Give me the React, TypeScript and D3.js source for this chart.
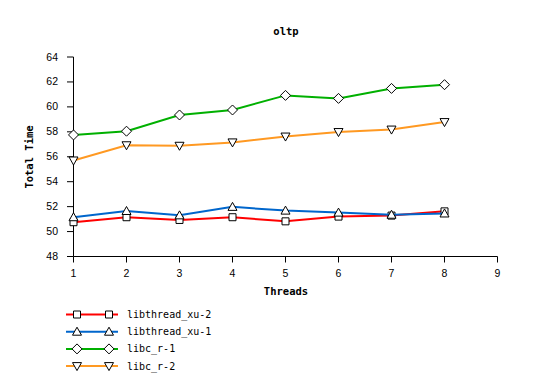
import React from "react";
import * as d3 from "d3";

const threads = [1, 2, 3, 4, 5, 6, 7, 8];
const xuTwo = [50.75, 51.15, 50.93, 51.15, 50.82, 51.2, 51.28, 51.62];
const xuOne = [51.15, 51.65, 51.3, 51.98, 51.68, 51.52, 51.35, 51.45];
const libcOne = [57.75, 58.05, 59.35, 59.75, 60.92, 60.68, 61.48, 61.78];
const libcTwo = [55.7, 56.92, 56.88, 57.15, 57.62, 57.98, 58.18, 58.78];
const seriesNames = ["libthread_xu-2", "libthread_xu-1", "libc_r-1", "libc_r-2"];
const seriesColors = ["#ff0000", "#0066cc", "#00b000", "#ff9922"];
const seriesMarkers = ["square", "triangle", "diamond", "triangleDown"];
const xTicks = [1, 2, 3, 4, 5, 6, 7, 8, 9];
const yTicks = [48, 50, 52, 54, 56, 58, 60, 62, 64];

function markerPath(kind: string, cx: number, cy: number): string {
  const s = 3.5;
  switch (kind) {
    case "square":
      return `M${cx - s},${cy - s}H${cx + s}V${cy + s}H${cx - s}Z`;
    case "triangle":
      return `M${cx},${cy - 4.5}L${cx + 4.5},${cy + 3.5}L${cx - 4.5},${cy + 3.5}Z`;
    case "triangleDown":
      return `M${cx - 4.5},${cy - 3.5}L${cx + 4.5},${cy - 3.5}L${cx},${cy + 4.5}Z`;
    default:
      return `M${cx},${cy - 5}L${cx + 5},${cy}L${cx},${cy + 5}L${cx - 5},${cy}Z`;
  }
}

export default function App() {
  const x = d3.scaleLinear().domain([1, 9]).range([73.5, 497.5]);
  const y = d3.scaleLinear().domain([48, 64]).range([256.5, 57]);
  const all = [xuTwo, xuOne, libcOne, libcTwo];
  const line = d3
    .line<number>()
    .x((_, i) => x(threads[i]))
    .y((d) => y(d));
  const sans = "'Liberation Sans', sans-serif";
  const mono = "'DejaVu Sans Mono', monospace";
  return (
    <svg
      width={554}
      height={391}
      style={{ position: "absolute", left: 0, top: 0, background: "#fff" }}
    >
      <rect x={0} y={0} width={554} height={391} fill="#fff" />
      <text x={286} y={35} textAnchor="middle" fontFamily={mono} fontWeight="bold" fontSize={10.5}>
        oltp
      </text>
      <line x1={73.5} y1={y(64)} x2={73.5} y2={y(48)} stroke="#000" strokeWidth={1} />
      <line x1={73.5} y1={y(48)} x2={497.5} y2={y(48)} stroke="#000" strokeWidth={1} />
      {yTicks.map((t) => (
        <g key={"y" + t}>
          <line x1={67} x2={73.5} y1={y(t)} y2={y(t)} stroke="#000" />
          <text x={58} y={y(t) + 3.5} textAnchor="end" fontFamily={sans} fontSize={10.5}>
            {t}
          </text>
        </g>
      ))}
      {xTicks.map((t) => (
        <g key={"x" + t}>
          <line x1={x(t)} x2={x(t)} y1={y(48)} y2={y(48) + 6} stroke="#000" />
          <text x={x(t)} y={y(48) + 20} textAnchor="middle" fontFamily={sans} fontSize={10.5}>
            {t}
          </text>
        </g>
      ))}
      <text x={286} y={295} textAnchor="middle" fontFamily={mono} fontWeight="bold" fontSize={10.5}>
        Threads
      </text>
      <text
        transform="translate(33,157) rotate(-90)"
        textAnchor="middle"
        fontFamily={mono}
        fontWeight="bold"
        fontSize={10.5}
      >
        Total Time
      </text>
      {all.map((vals, si) => (
        <g key={"s" + si}>
          <path d={line(vals) || ""} fill="none" stroke={seriesColors[si]} strokeWidth={2} />
          {vals.map((v, i) => (
            <path
              key={i}
              d={markerPath(seriesMarkers[si], x(threads[i]), y(v))}
              fill="#fff"
              stroke="#000"
              strokeWidth={1}
            />
          ))}
        </g>
      ))}
      {seriesNames.map((name, si) => {
        const ly = 314.5 + si * 17.2;
        return (
          <g key={"l" + si}>
            <line x1={66} x2={118} y1={ly} y2={ly} stroke={seriesColors[si]} strokeWidth={2} />
            <path d={markerPath(seriesMarkers[si], 77, ly)} fill="#fff" stroke="#000" />
            <path d={markerPath(seriesMarkers[si], 109, ly)} fill="#fff" stroke="#000" />
            <text x={127} y={ly + 3.5} fontFamily={mono} fontSize={10}>
              {name}
            </text>
          </g>
        );
      })}
    </svg>
  );
}
